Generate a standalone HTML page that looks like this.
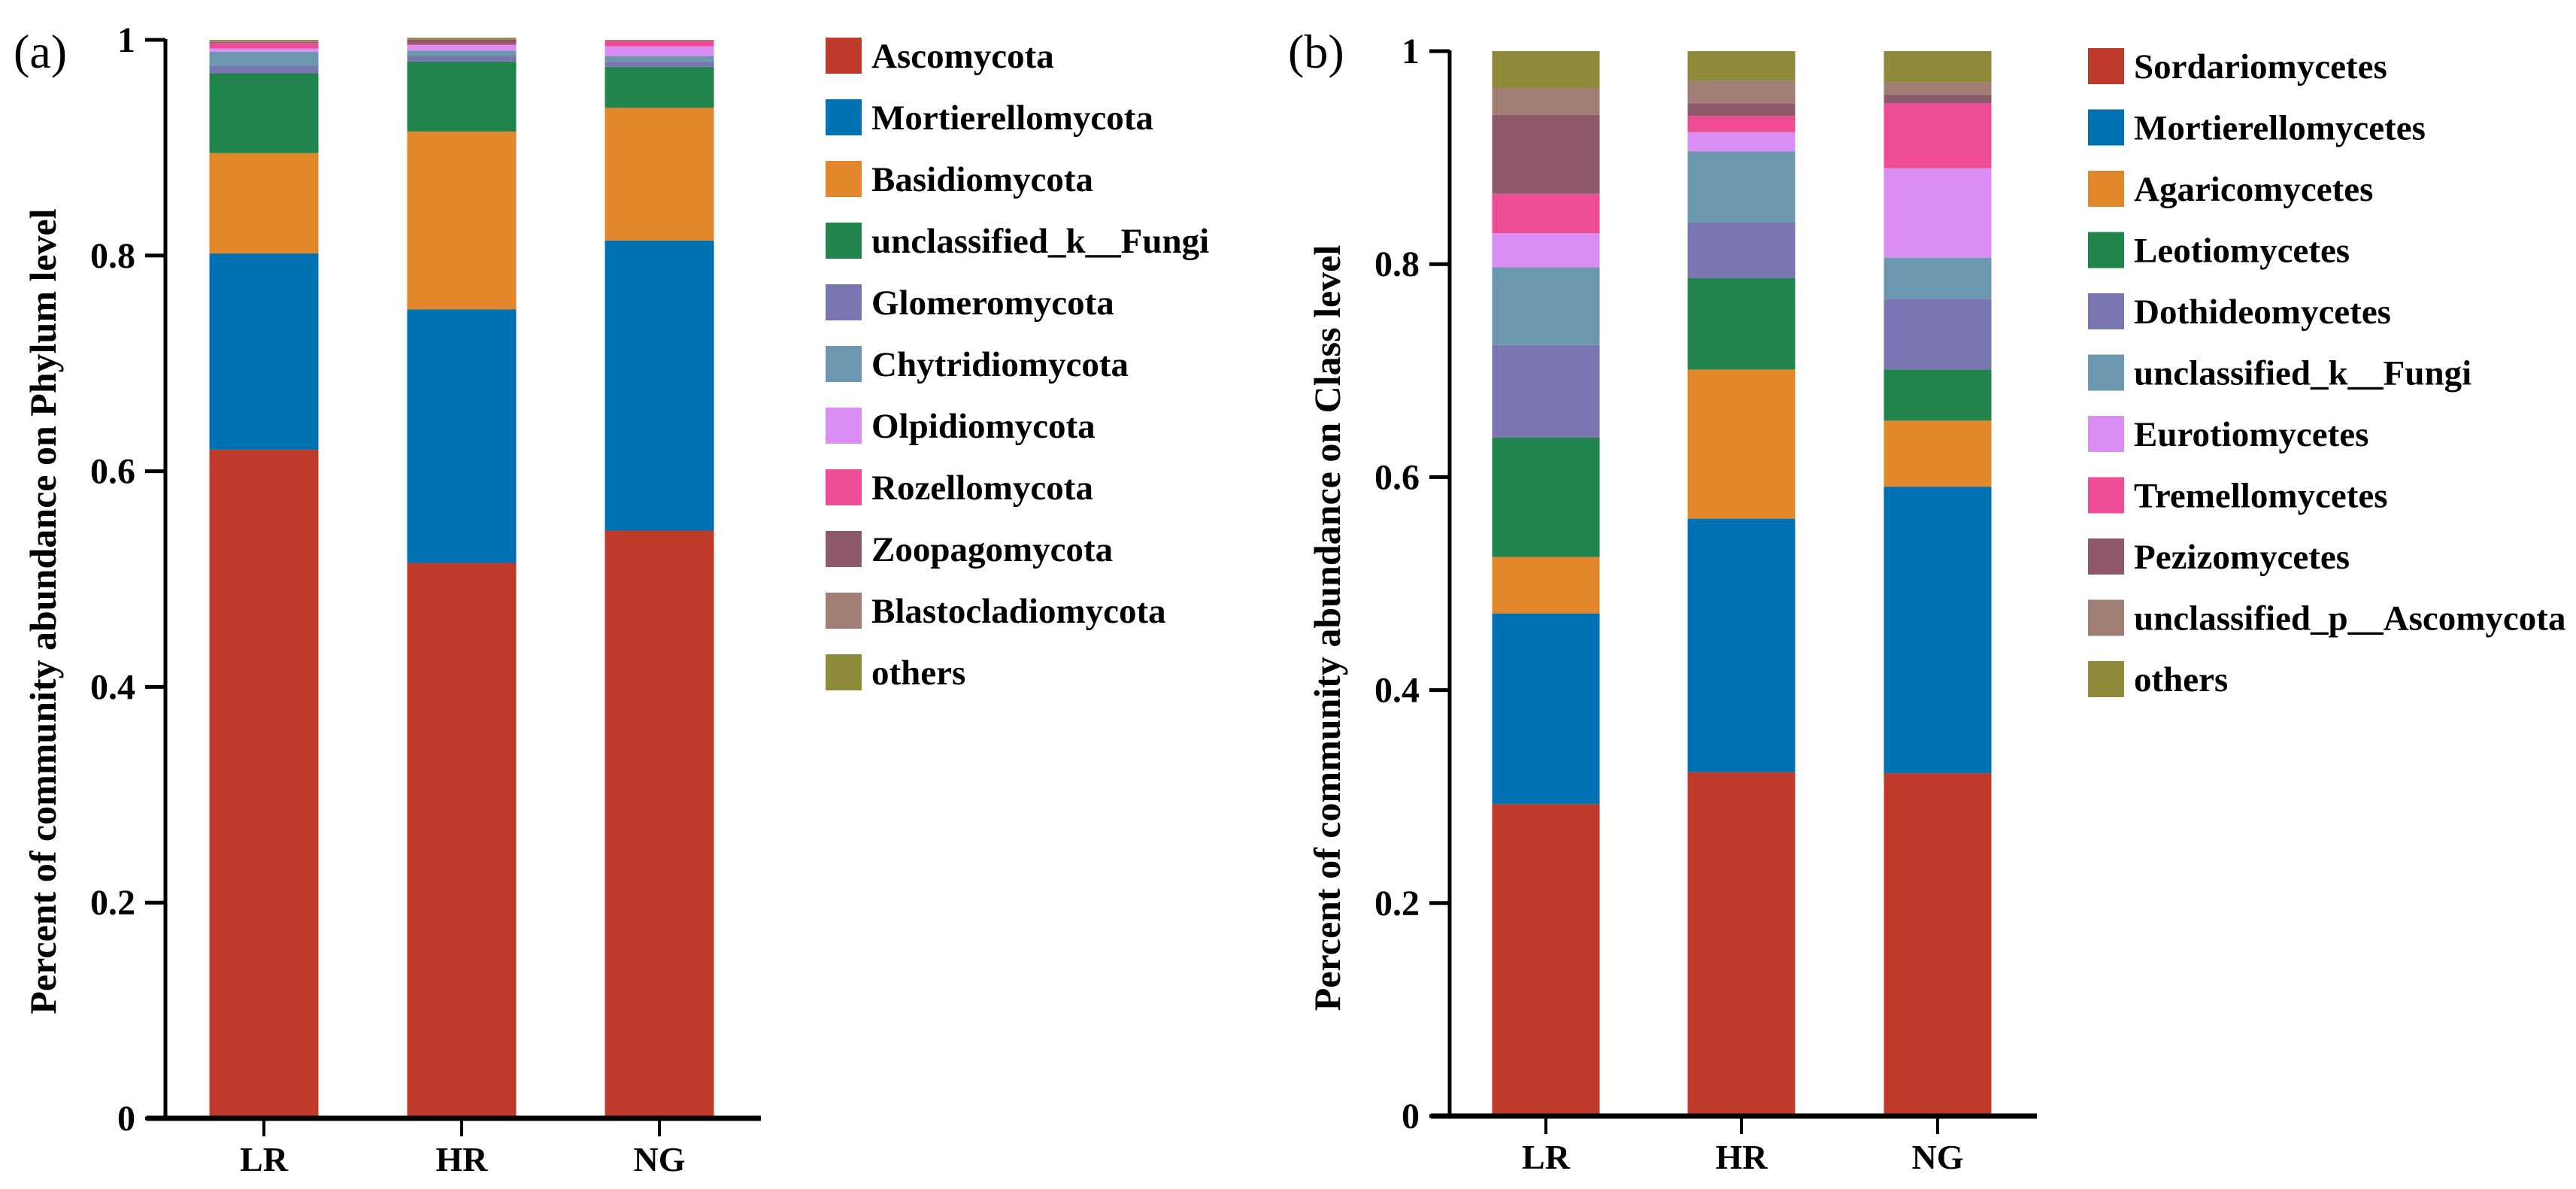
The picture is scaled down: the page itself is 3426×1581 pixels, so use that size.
<!DOCTYPE html>
<html><head><meta charset="utf-8"><style>
html,body{margin:0;padding:0;background:#fff;}
svg{display:block;font-family:"Liberation Serif","DejaVu Serif",serif;}
text{font-family:"Liberation Serif","DejaVu Serif",serif;fill:#000;}
</style></head><body>
<svg id="chart" width="3426" height="1581" viewBox="0 0 3426 1581" xmlns="http://www.w3.org/2000/svg" font-family="Liberation Serif, serif"></svg>
<script>
const categories = ["LR","HR","NG"];
const yTicks = [0,0.2,0.4,0.6,0.8,1];
const yTickLabels = ["0","0.2","0.4","0.6","0.8","1"];
const phylumNames = ["Ascomycota","Mortierellomycota","Basidiomycota","unclassified_k__Fungi","Glomeromycota","Chytridiomycota","Olpidiomycota","Rozellomycota","Zoopagomycota","Blastocladiomycota","others"];
const phylumLR = [0.620,0.182,0.093,0.074,0.007,0.013,0.003,0.005,0.001,0.001,0.001];
const phylumHR = [0.515,0.235,0.165,0.065,0.005,0.005,0.005,0.001,0.004,0.001,0.001];
const phylumNG = [0.545,0.269,0.123,0.038,0.005,0.005,0.009,0.005,0.0005,0.0005,0.0];
const classNames = ["Sordariomycetes","Mortierellomycetes","Agaricomycetes","Leotiomycetes","Dothideomycetes","unclassified_k__Fungi","Eurotiomycetes","Tremellomycetes","Pezizomycetes","unclassified_p__Ascomycota","others"];
const classLR = [0.293,0.179,0.053,0.112,0.087,0.073,0.032,0.037,0.074,0.025,0.035];
const classHR = [0.323,0.238,0.140,0.086,0.052,0.067,0.018,0.015,0.012,0.021,0.028];
const classNG = [0.322,0.269,0.062,0.048,0.066,0.039,0.084,0.061,0.008,0.012,0.029];
const colors = ["#BE3B2B","#0071B3","#E2872B","#21844C","#7A76B1","#6B98AE","#DA8EF5","#EE4C94","#8E5A6B","#A07E75","#8D8A3A"];

const NS="http://www.w3.org/2000/svg";
const svg=document.getElementById('chart');
function mk(tag,attrs,parent){const e=document.createElementNS(NS,tag);for(const k in attrs)e.setAttribute(k,attrs[k]);(parent||svg).appendChild(e);return e;}

function drawPanel(p){
  const g=mk('g',{});
  
  
  const yScale=v=>p.y0-(p.y0-p.y1)*v;
  const xCenter=i=>p.centers[i];
  p.series.forEach((vals,ci)=>{
    let cum=0;
    vals.forEach((v,si)=>{
      const top=yScale(cum+v), bot=yScale(cum);
      const r=mk('rect',{x:xCenter(ci)-p.bw/2,y:top,width:p.bw,height:Math.max(0,bot-top),fill:colors[si]},g);
      
      
      cum+=v;
    });
  });
  const ya=mk('line',{x1:p.ax,y1:p.y1-1,x2:p.ax,y2:p.y0,stroke:'#000','stroke-width':5},g);
  
  
  yTicks.forEach((t,i)=>{
    const y=yScale(t);
    const tl=mk('line',{x1:p.ax-27,y1:y,x2:p.ax,y2:y,stroke:'#000','stroke-width':5},g);
    
    
    const tx=mk('text',{x:p.ax-40,y:y+16,'text-anchor':'end','font-size':48,'font-weight':'bold'},g);
    tx.textContent=yTickLabels[i];
    
    
  });
  const xa=mk('line',{x1:p.xa0,y1:p.y0,x2:p.xa1,y2:p.y0,stroke:'#000','stroke-width':7},g);
  
  
  categories.forEach((c,i)=>{
    const tl=mk('line',{x1:xCenter(i),y1:p.y0,x2:xCenter(i),y2:p.y0+24,stroke:'#000','stroke-width':4},g);
    
    
    const tx=mk('text',{x:xCenter(i),y:p.y0+70,'text-anchor':'middle','font-size':46,'font-weight':'bold'},g);
    tx.textContent=c;
    
    
  });
  const yt=mk('text',{x:0,y:0,'text-anchor':'middle','font-size':50,'font-weight':'bold',transform:`translate(${p.tx},${p.ty}) rotate(-90)`},g);
  yt.textContent=p.title;
  
  
  const pl=mk('text',{x:p.lx,y:90,'font-size':64},g);
  pl.textContent=p.label;
  
  
  p.names.forEach((n,i)=>{
    const lg=mk('g',{},g);
    
    
    const top=p.legY+i*p.legStep;
    mk('rect',{x:p.legX,y:top,width:48,height:48,fill:colors[i]},lg);
    const t=mk('text',{x:p.legX+61,y:top+40,'font-size':47,'font-weight':'bold'},lg);
    t.textContent=n;
  });
}

drawPanel({id:'phylum',names:phylumNames,series:[phylumLR,phylumHR,phylumNG],y0:1487,y1:53,ax:220,xa0:195,xa1:1012,centers:[351,614,877],bw:145,
  title:'Percent of community abundance on Phylum level',tx:74,ty:813,label:'(a)',lx:18,legX:1098,legY:50,legStep:82});
drawPanel({id:'class',names:classNames,series:[classLR,classHR,classNG],y0:1484,y1:68,ax:1928,xa0:1903,xa1:2709,centers:[2056,2316,2577],bw:143,
  title:'Percent of community abundance on Class level',tx:1782,ty:835,label:'(b)',lx:1713,legX:2777,legY:64,legStep:81.5});
</script>
</body></html>
